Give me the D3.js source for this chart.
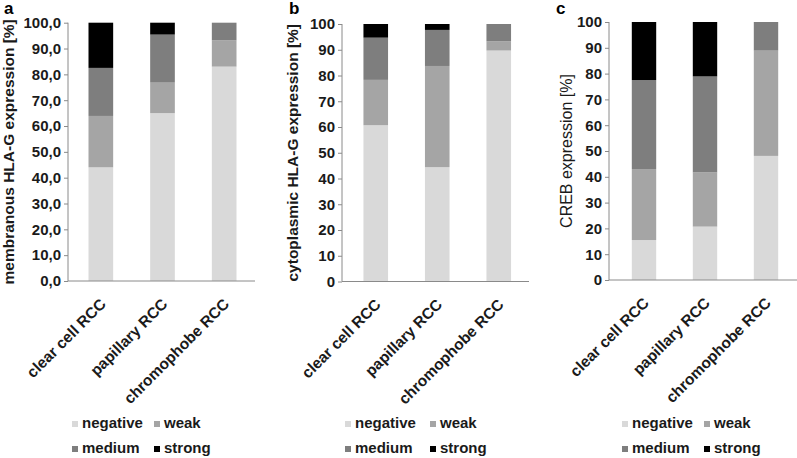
<!DOCTYPE html>
<html lang="en">
<head>
<meta charset="UTF-8">
<title>HLA-G and CREB expression</title>
<script src="https://d3js.org/d3.v7.min.js"></script>
<style>
    body { margin: 0; background: #fff; }
    svg { display: block; font-family: "Liberation Sans", Arial, sans-serif; }
    .axis path, .axis line { stroke: #8a8a8a; }
    .axis text { fill: #1a1a1a; font-weight: bold; font-size: 15px; }
</style>
</head>
<body>
<svg id="chart" width="797" height="458"></svg>
<script>
    // categories and levels
    const categories = ["clear cell RCC", "papillary RCC", "chromophobe RCC"];
    const levels = ["negative", "weak", "medium", "strong"];
    const yTicks = [0, 10, 20, 30, 40, 50, 60, 70, 80, 90, 100];

    // panel a: membranous HLA-G (%)
    const memNegative = [44.0, 65.0, 83.0];
    const memWeak     = [19.9, 11.8, 10.2];
    const memMedium   = [18.6, 18.6, 6.8];
    const memStrong   = [17.5, 4.6, 0];

    // panel b: cytoplasmic HLA-G (%)
    const cytNegative = [60.7, 44.4, 89.7];
    const cytWeak     = [17.6, 39.3, 3.6];
    const cytMedium   = [16.4, 14.0, 6.7];
    const cytStrong   = [5.3, 2.3, 0];

    // panel c: CREB (%)
    const crebNegative = [15.5, 20.7, 48.1];
    const crebWeak     = [27.5, 21.0, 40.8];
    const crebMedium   = [34.5, 37.2, 11.1];
    const crebStrong   = [22.5, 21.1, 0];

    const colors = d3.scaleOrdinal()
        .domain(levels)
        .range(["#d9d9d9", "#a5a5a5", "#7e7e7e", "#000000"]);

    const panels = [
        {
            letter: "a", title: "membranous HLA-G expression [%]", bold: true, comma: true,
            series: [memNegative, memWeak, memMedium, memStrong],
            axisX: 68, xRange: [70, 255], yRange: [281, 22.7], axisEnd: 255,
            letterX: 4, titleX: 14, legendX: 72, legendX2: 154
        },
        {
            letter: "b", title: "cytoplasmic HLA-G expression [%]", bold: true, comma: false,
            series: [cytNegative, cytWeak, cytMedium, cytStrong],
            axisX: 342, xRange: [345, 529.5], yRange: [281.5, 24], axisEnd: 529,
            letterX: 289, titleX: 298, legendX: 345, legendX2: 430
        },
        {
            letter: "c", title: "CREB expression [%]", bold: false, comma: false,
            series: [crebNegative, crebWeak, crebMedium, crebStrong],
            axisX: 609, xRange: [613.5, 796.5], yRange: [280, 22], axisEnd: 797,
            letterX: 556, titleX: 572, legendX: 622, legendX2: 704
        }
    ];

    const svg = d3.select("#chart");

    panels.forEach(p => {
        const g = svg.append("g");

        // build rows for stacking
        const rows = categories.map((c, i) => {
            const row = { category: c };
            levels.forEach((l, j) => { row[l] = p.series[j][i]; });
            return row;
        });
        const stacked = d3.stack().keys(levels)(rows);

        const x = d3.scaleBand()
            .domain(categories)
            .range(p.xRange)
            .paddingInner(0.6)
            .paddingOuter(0.3);

        const y = d3.scaleLinear()
            .domain([0, 100])
            .range(p.yRange);

        // bars
        g.selectAll(".layer")
            .data(stacked)
            .join("g")
            .attr("fill", d => colors(d.key))
            .selectAll("rect")
            .data(d => d)
            .join("rect")
            .attr("x", d => x(d.data.category))
            .attr("width", x.bandwidth())
            .attr("y", d => y(d[1]))
            .attr("height", d => y(d[0]) - y(d[1]));

        // y axis
        const fmt = p.comma ? (d => d.toFixed(1).replace(".", ",")) : (d => d);
        g.append("g")
            .attr("class", "axis")
            .attr("transform", `translate(${p.axisX},0)`)
            .call(d3.axisLeft(y).tickValues(yTicks).tickFormat(fmt).tickSize(4).tickSizeOuter(0).tickPadding(3))
            .call(a => a.select(".domain").attr("d", `M0,${p.yRange[1]}V${p.yRange[0]}`));

        // x axis line
        g.append("line")
            .attr("x1", p.axisX).attr("x2", p.axisEnd)
            .attr("y1", p.yRange[0]).attr("y2", p.yRange[0])
            .attr("stroke", "#8a8a8a");

        // category labels
        g.selectAll(".cat")
            .data(categories)
            .join("text")
            .attr("class", "cat")
            .attr("text-anchor", "end")
            .attr("transform", d => `translate(${x(d) + x.bandwidth() / 2 + 6},${p.yRange[0] + 24}) rotate(-45)`)
            .attr("font-size", "15.5px")
            .attr("font-weight", "bold")
            .attr("fill", "#1a1a1a")
            .text(d => d);

        // y title
        g.append("text")
            .attr("transform", `translate(${p.titleX},${(p.yRange[0] + p.yRange[1]) / 2}) rotate(-90)`)
            .attr("text-anchor", "middle")
            .attr("font-size", p.bold ? "15.5px" : "16px")
            .attr("font-weight", p.bold ? "bold" : "normal")
            .attr("fill", "#1a1a1a")
            .text(p.title);

        // panel letter
        g.append("text")
            .attr("x", p.letterX).attr("y", 14)
            .attr("font-size", "17px")
            .attr("font-weight", "bold")
            .attr("fill", "#000")
            .text(p.letter);

        // legend
        const legend = g.selectAll(".leg")
            .data(levels)
            .join("g")
            .attr("class", "leg")
            .attr("transform", (d, i) => `translate(${i % 2 === 0 ? p.legendX : p.legendX2},${i < 2 ? 428 : 453})`);
        legend.append("rect")
            .attr("x", 0).attr("y", -7)
            .attr("width", 6).attr("height", 6)
            .attr("fill", d => colors(d));
        legend.append("text")
            .attr("x", 10).attr("y", 0)
            .attr("font-size", "15px")
            .attr("font-weight", "bold")
            .attr("fill", "#1a1a1a")
            .text(d => d);
    });
</script>
</body>
</html>
